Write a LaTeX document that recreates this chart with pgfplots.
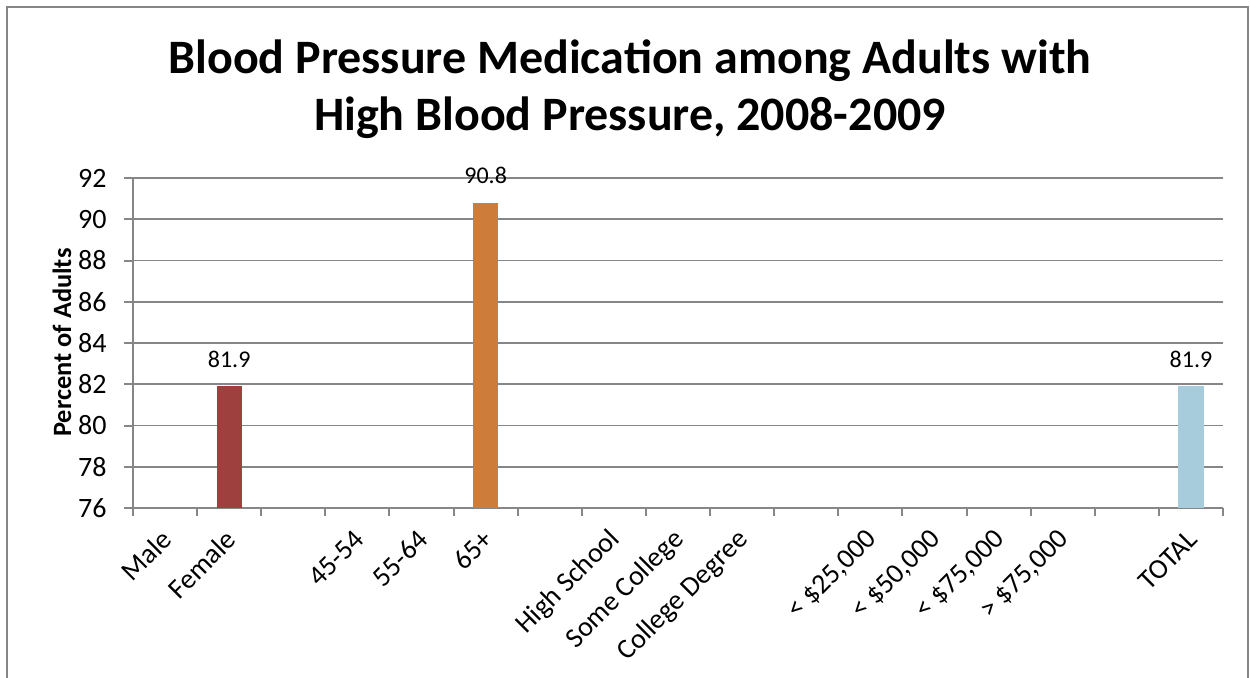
\documentclass[border=0pt]{standalone}
\usepackage{pgfplots}
\pgfplotsset{compat=1.18}
\usepackage{fontspec}
\setmainfont{Carlito}
\definecolor{gridgray}{RGB}{134,134,134}
\definecolor{barred}{RGB}{158,64,62}
\definecolor{barorange}{RGB}{205,124,58}
\definecolor{barblue}{RGB}{167,205,220}
\begin{document}
\begin{tikzpicture}[x=1pt,y=1pt]
\path[use as bounding box] (0,0) rectangle (625,338.5);
\draw[gridgray, line width=1pt] (3.5,-2) -- (3.5,335) -- (624,335) -- (624,-2);
\node[anchor=base, font=\bfseries\fontsize{24}{28}\selectfont] at (315,302) {Blood Pressure Medication among Adults with};
\node[anchor=base, font=\bfseries\fontsize{24}{28}\selectfont] at (315,273.5) {High Blood Pressure, 2008-2009};
\node[rotate=90, font=\bfseries\fontsize{13.2}{15}\selectfont] at (31,167.2) {Percent of Adults};
\begin{axis}[
  at={(66.5pt,84.5pt)}, anchor=south west,
  scale only axis, width=545pt, height=165pt,
  xmin=0.5, xmax=17.5, ymin=76, ymax=92,
  axis x line*=bottom, axis y line*=left,
  axis line style={gridgray, line width=1pt},
  ymajorgrids, grid style={gridgray, line width=0.9pt},
  ytick={76,78,...,92},
  xtick={1,...,17},
  xticklabels={Male,Female,,45-54,55-64,65+,,High School,Some College,College Degree,,< \$25{,}000,< \$50{,}000,< \$75{,}000,> \$75{,}000,,TOTAL},
  minor xtick={0.5,1.5,...,17.5},
  tick align=outside,
  major tick length=4.5pt, minor tick length=4pt,
  tick style={gridgray, line width=1pt},
  x tick style={draw=none},
  minor x tick style={draw=gridgray, line width=1pt},
  /pgf/number format/assume math mode=true,
  ticklabel style={font=\fontsize{14}{16}\selectfont},
  yticklabel style={inner sep=0pt, xshift=-8.5pt},
  xticklabel style={xshift=1pt, yshift=-9pt, rotate=45, anchor=east, inner sep=0pt},
  ybar, bar shift=0pt, bar width=12.65pt,
  nodes near coords={\pgfmathprintnumber[fixed,precision=1,fixed zerofill]{\pgfplotspointmeta}},
  nodes near coords style={font=\fontsize{12}{14}\selectfont, black, yshift=6pt},
]
\addplot[fill=barred, draw=none] coordinates {(2,81.9)};
\addplot[fill=barorange, draw=none] coordinates {(6,90.8)};
\addplot[fill=barblue, draw=none] coordinates {(17,81.9)};
\end{axis}
\end{tikzpicture}
\end{document}
